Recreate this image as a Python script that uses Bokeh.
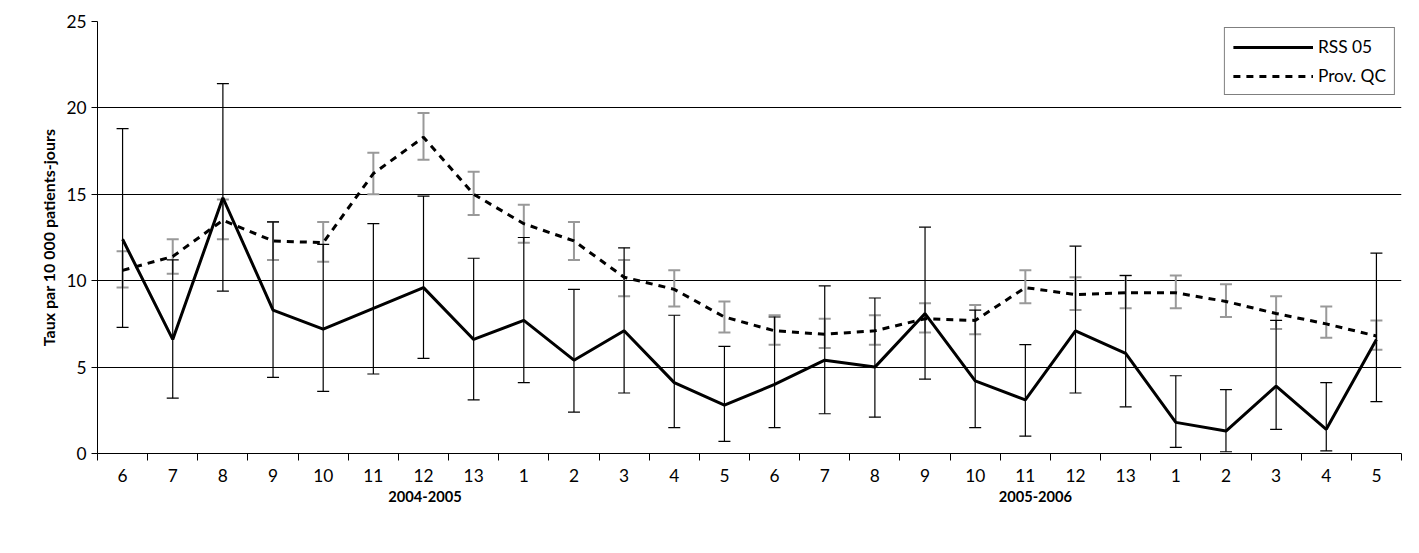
from bokeh.plotting import figure
from bokeh.models import ColumnDataSource, Whisker, FixedTicker, LinearAxis, Legend, LegendItem, Range1d
from bokeh.embed import file_html
from bokeh.resources import INLINE

periods = ["6", "7", "8", "9", "10", "11", "12", "13", "1", "2", "3", "4", "5",
           "6", "7", "8", "9", "10", "11", "12", "13", "1", "2", "3", "4", "5"]
rss = [12.4, 6.6, 14.8, 8.3, 7.2, 8.4, 9.6, 6.6, 7.7, 5.4, 7.1, 4.1, 2.8,
       4.0, 5.4, 5.0, 8.1, 4.2, 3.1, 7.1, 5.8, 1.8, 1.3, 3.9, 1.4, 6.6]
rss_low = [7.3, 3.2, 9.4, 4.4, 3.6, 4.6, 5.5, 3.1, 4.1, 2.4, 3.5, 1.5, 0.7,
           1.5, 2.3, 2.1, 4.3, 1.5, 1.0, 3.5, 2.7, 0.35, 0.1, 1.4, 0.15, 3.0]
rss_high = [18.8, 11.2, 21.4, 13.4, 12.1, 13.3, 14.9, 11.3, 12.5, 9.5, 11.9, 8.0, 6.2,
            7.9, 9.7, 9.0, 13.1, 8.3, 6.3, 12.0, 10.3, 4.5, 3.7, 7.7, 4.1, 11.6]
qc = [10.6, 11.4, 13.5, 12.3, 12.2, 16.2, 18.3, 15.0, 13.3, 12.3, 10.2, 9.5, 7.9,
      7.1, 6.9, 7.1, 7.8, 7.7, 9.6, 9.2, 9.3, 9.3, 8.8, 8.1, 7.5, 6.8]
qc_low = [9.6, 10.4, 12.4, 11.2, 11.1, 15.0, 17.0, 13.8, 12.2, 11.2, 9.1, 8.5, 7.0,
          6.3, 6.1, 6.3, 7.0, 6.9, 8.7, 8.3, 8.4, 8.4, 7.9, 7.2, 6.7, 6.0]
qc_high = [11.7, 12.4, 14.7, 13.4, 13.4, 17.4, 19.7, 16.3, 14.4, 13.4, 11.2, 10.6, 8.8,
           8.0, 7.8, 8.0, 8.7, 8.6, 10.6, 10.2, 10.3, 10.3, 9.8, 9.1, 8.5, 7.7]
years = ["2004-2005", "2005-2006"]
year_pos = [7.03, 19.2]

FONT = "Lato"
x = list(range(1, len(periods) + 1))
src = ColumnDataSource(dict(x=x, rss=rss, rl=rss_low, rh=rss_high, qc=qc, ql=qc_low, qh=qc_high))

p = figure(width=1403, height=537, output_backend="svg", toolbar_location=None,
           x_range=Range1d(0.5, len(periods) + 0.5), y_range=Range1d(0, 25),
           min_border_left=97, min_border_right=2, min_border_top=21, min_border_bottom=84)
p.outline_line_color = None

wq = Whisker(source=src, base="x", lower="ql", upper="qh", line_color="#999999", line_width=2)
for h in (wq.upper_head, wq.lower_head):
    h.size = 12
    h.line_color = "#999999"
    h.line_width = 2
p.add_layout(wq)

wr = Whisker(source=src, base="x", lower="rl", upper="rh", line_color="black", line_width=1.2)
for h in (wr.upper_head, wr.lower_head):
    h.size = 12
    h.line_width = 1.2
p.add_layout(wr)

l1 = p.line("x", "rss", source=src, line_color="black", line_width=3)
l2 = p.line("x", "qc", source=src, line_color="black", line_width=3, line_dash="7 6")

legend = Legend(items=[LegendItem(label="RSS 05", renderers=[l1]), LegendItem(label="Prov. QC", renderers=[l2])],
                location="top_right", border_line_color="black", label_text_font=FONT,
                label_text_font_size="13pt", label_text_color="black", glyph_width=80,
                spacing=8, padding=8, margin=6)
p.add_layout(legend)

p.xgrid.visible = False
p.ygrid.grid_line_color = "black"
p.ygrid.grid_line_alpha = 1
for ax in (p.xaxis[0], p.yaxis[0]):
    ax.axis_line_color = "black"
    ax.major_label_text_color = "black"
    ax.major_label_text_font = FONT
    ax.major_label_text_font_size = "13pt"
p.yaxis.ticker = FixedTicker(ticks=[0, 5, 10, 15, 20, 25])
p.yaxis.minor_tick_line_color = None
p.yaxis.major_tick_in = 0
p.yaxis.major_tick_out = 6
p.yaxis.major_tick_line_color = "black"
p.yaxis.axis_label = "Taux par 10 000 patients-jours"
p.yaxis.axis_label_text_font = FONT
p.yaxis.axis_label_text_font_style = "bold"
p.yaxis.axis_label_text_font_size = "12pt"
p.yaxis.axis_label_text_color = "black"

p.xaxis.ticker = FixedTicker(ticks=x, minor_ticks=[i + 0.5 for i in range(len(periods) + 1)])
p.xaxis.major_label_overrides = {i: s for i, s in zip(x, periods)}
p.xaxis.major_tick_out = 0
p.xaxis.major_tick_in = 0
p.xaxis.minor_tick_out = 7
p.xaxis.minor_tick_in = 0
p.xaxis.minor_tick_line_color = "black"
p.xaxis.major_label_standoff = 8

ax2 = LinearAxis(ticker=FixedTicker(ticks=year_pos),
                 major_label_overrides={v: s for v, s in zip(year_pos, years)},
                 axis_line_color=None, major_tick_line_color=None, minor_tick_line_color=None,
                 major_label_text_font=FONT, major_label_text_font_style="bold",
                 major_label_text_color="black",
                 major_label_text_font_size="11pt", major_label_standoff=0)
p.add_layout(ax2, "below")

open("out.html", "w").write(file_html(p, INLINE))
